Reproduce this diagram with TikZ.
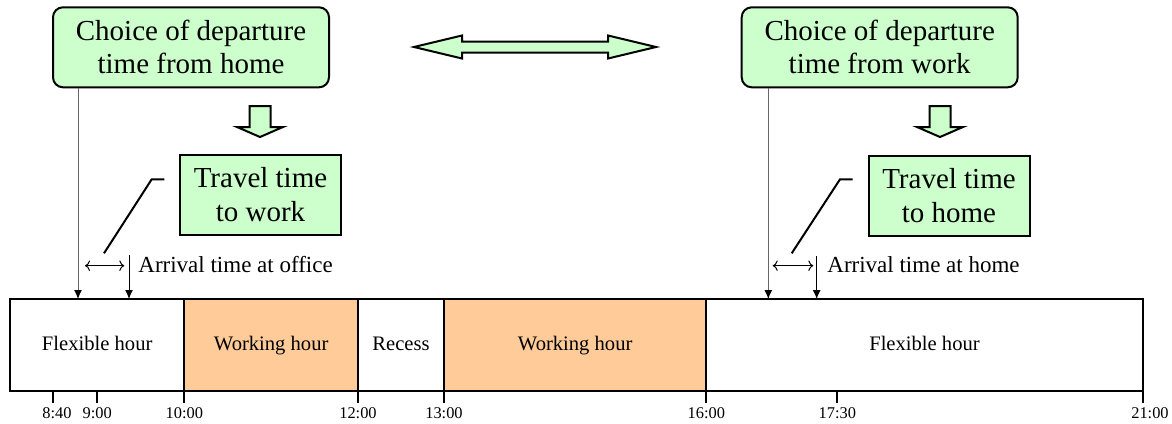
\documentclass[tikz,border=0pt]{standalone}
\usepackage{fontspec}
\setmainfont{Liberation Serif}
\usetikzlibrary{arrows.meta}
\definecolor{boxgreen}{HTML}{CCFFCC}
\definecolor{workorange}{HTML}{FFCC99}

\begin{document}
\begin{tikzpicture}[x=0.5pt, y=-0.5pt,
    choicebox/.style={draw, line width=1pt, rounded corners=5pt, fill=boxgreen, align=center,
        inner sep=0pt, minimum width=138pt, minimum height=40pt,
        font=\fontsize{14.5}{16.5}\selectfont},
    travelbox/.style={draw, line width=1pt, fill=boxgreen, align=center,
        inner sep=0pt, minimum width=80.5pt, minimum height=40pt,
        font=\fontsize{14.5}{17}\selectfont},
    seg/.style={draw, line width=1pt, inner sep=0pt, minimum height=46pt,
        text height=7.2pt, text depth=2.2pt, font=\fontsize{10.3}{12}\selectfont},
    ticklabel/.style={font=\fontsize{8.2}{10}\selectfont, inner sep=0pt},
    arrivaltext/.style={anchor=west, inner sep=0pt, font=\fontsize{11.5}{13}\selectfont},
    guide/.style={gray!80!black, line width=0.5pt, -{Latex[black, length=4.5pt, width=4pt]}},
    drop/.style={black, line width=0.5pt, -{Latex[length=4.5pt, width=4pt]}},
    span/.style={line width=0.5pt, {To[length=2.5pt]}-{To[length=2.5pt]}},
    blockarrow/.style={draw, line width=1pt, fill=boxgreen, line join=miter}
]
    \useasboundingbox (0,0) rectangle (1172,423);

    % Decision boxes
    \node[choicebox] (leavehome) at (191,47.3) {Choice of departure\\time from home};
    \node[choicebox] (leavework) at (879.7,47.3) {Choice of departure\\time from work};

    % Double block arrow between the decisions
    \draw[blockarrow] (414,47) -- (462,35.5) -- (462,41.5) -- (608,41.5) -- (608,35.5)
        -- (656,47) -- (608,58.5) -- (608,52.5) -- (462,52.5) -- (462,58.5) -- cycle;

    % Block arrows down to the travel times
    \begin{scope}[shift={(260,0)}]
        \draw[blockarrow] (-10.5,106) -- (10.5,106) -- (10.5,127) -- (23,127) -- (0,137)
            -- (-23,127) -- (-10.5,127) -- cycle;
    \end{scope}
    \begin{scope}[shift={(940,0)}]
        \draw[blockarrow] (-10.5,106) -- (10.5,106) -- (10.5,127) -- (23,127) -- (0,137)
            -- (-23,127) -- (-10.5,127) -- cycle;
    \end{scope}

    % Travel time boxes
    \node[travelbox] (travelwork) at (260.5,195) {Travel time\\to work};
    \node[travelbox] (travelhome) at (949,195.5) {Travel time\\to home};

    % Time bar
    \node[seg, fill=white, minimum width=87.15pt] (flex1) at (97.2,345) {Flexible hour};
    \node[seg, fill=workorange, minimum width=86.85pt] (work1) at (271.2,345) {Working hour};
    \node[seg, fill=white, minimum width=43pt] (recess) at (401,345) {Recess};
    \node[seg, fill=workorange, minimum width=131.15pt] (work2) at (575.2,345) {Working hour};
    \node[seg, fill=white, minimum width=218.2pt] (flex2) at (924.5,345) {Flexible hour};

    % Ticks and times
    \foreach \x/\t/\lx in {53.3/8:40/57, 97.3/9:00/97.3, 184.3/10:00/184.3, 358/12:00/358,
                          444/13:00/444, 706.3/16:00/706.3, 837.3/17:30/837.3, 1142.7/21:00/1150}{
        \draw[line width=1pt] (\x,391) -- (\x,403);
        \node[ticklabel] (lab\x) at (\lx,413.5) {\t};
    }

    % Morning trip
    \coordinate (dep1) at (78,299);
    \coordinate (arr1top) at (129,255);
    \coordinate (arr1) at (129,299);
    \draw[guide] (leavehome.south -| dep1) -- (dep1);
    \draw[drop] (arr1top) -- (arr1);
    \coordinate (span1a) at (85,265.7);
    \coordinate (span1b) at (124.3,265.7);
    \draw[span] (span1a) -- (span1b);
    \coordinate (lead1a) at (164.3,179.3);
    \coordinate (lead1b) at (151.7,179.3);
    \coordinate (lead1c) at (104,253.3);
    \draw[line width=1pt] (lead1a) -- (lead1b) -- (lead1c);
    \node[arrivaltext] (arrivaloffice) at (138,265) {Arrival time at office};

    % Evening trip
    \coordinate (dep2) at (768.3,299);
    \coordinate (arr2top) at (816.7,256);
    \coordinate (arr2) at (816.7,299);
    \draw[guide] (leavework.south -| dep2) -- (dep2);
    \draw[drop] (arr2top) -- (arr2);
    \coordinate (span2a) at (772.7,265.7);
    \coordinate (span2b) at (813.3,265.7);
    \draw[span] (span2a) -- (span2b);
    \coordinate (lead2a) at (852.7,179.3);
    \coordinate (lead2b) at (840,179.3);
    \coordinate (lead2c) at (791.7,253.3);
    \draw[line width=1pt] (lead2a) -- (lead2b) -- (lead2c);
    \node[arrivaltext] (arrivalhome) at (827,265) {Arrival time at home};
\end{tikzpicture}
\end{document}
